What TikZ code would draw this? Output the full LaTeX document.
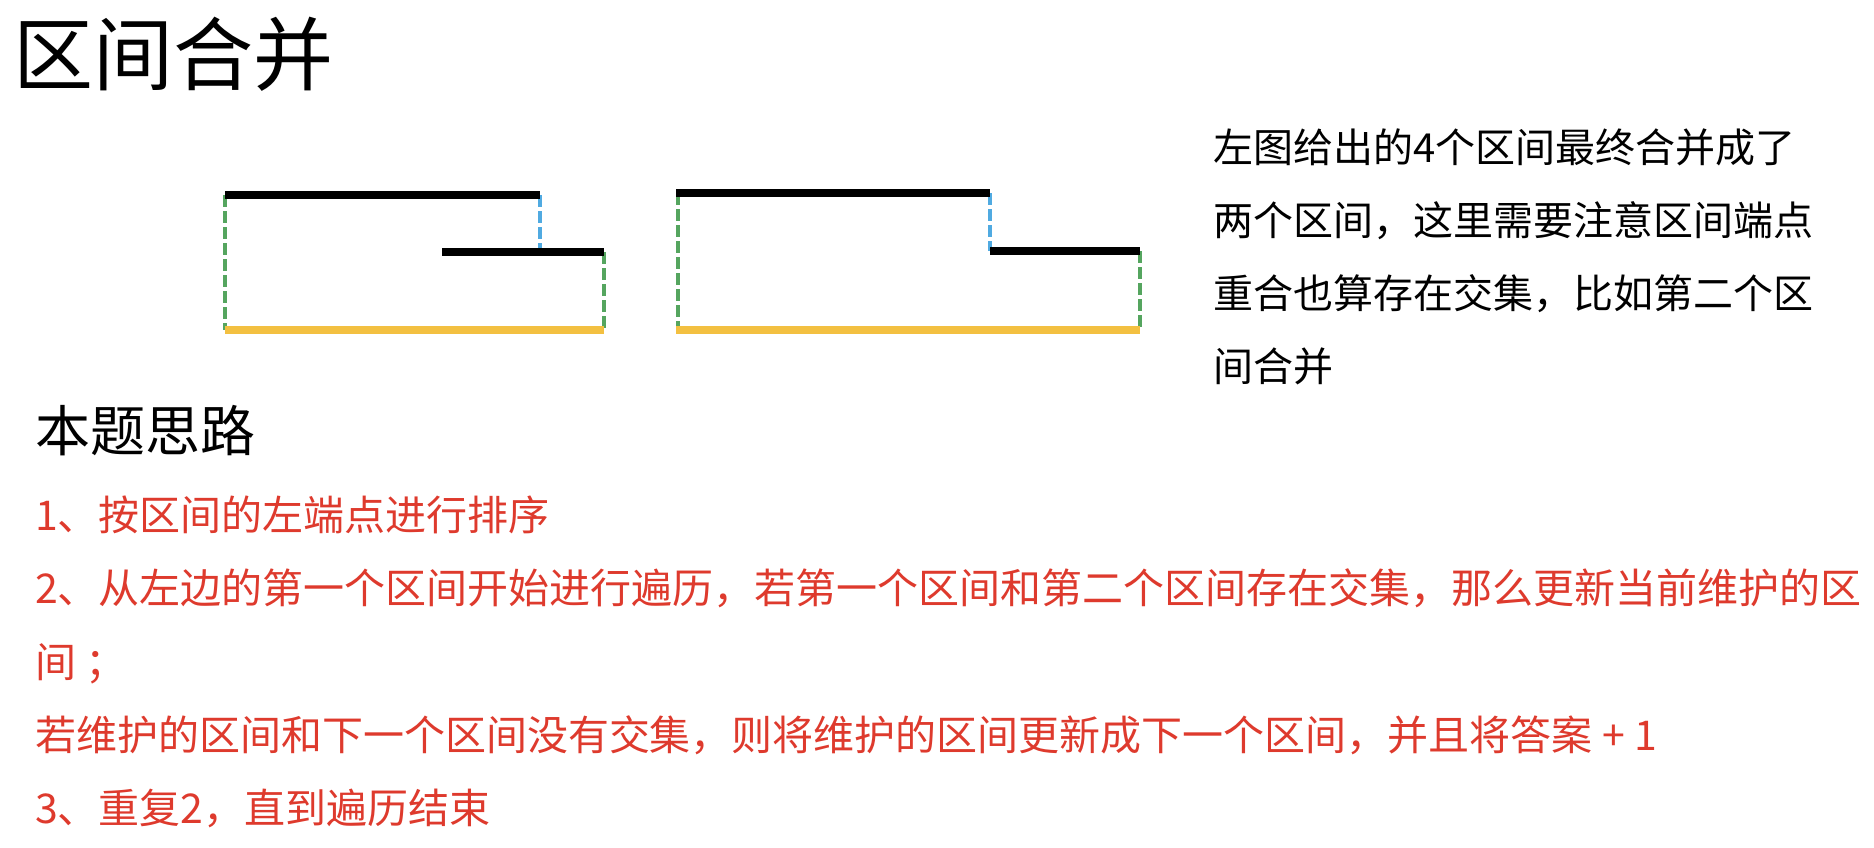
\documentclass[tikz,border=0pt]{standalone}
\usepackage{fontspec}
\setmainfont{Noto Sans CJK SC}
\definecolor{redtxt}{RGB}{222,58,45}
\definecolor{barYellow}{RGB}{243,192,65}
\definecolor{dashGreen}{RGB}{85,165,95}
\definecolor{dashBlue}{RGB}{80,170,225}
\tikzset{
  txt/.style={inner sep=0pt, outer sep=0pt, anchor=base west},
  bigtitle/.style={txt, font=\fontsize{80}{80}\selectfont},
  subtitle/.style={txt, font=\fontsize{55}{55}\selectfont},
  note/.style={txt, font=\fontsize{40}{40}\selectfont},
  redline/.style={txt, text=redtxt, font=\fontsize{41}{41}\selectfont},
  bar/.style={line width=8pt, draw=black},
  mergedbar/.style={line width=8pt, draw=barYellow},
  gside/.style={line width=4pt, draw=dashGreen, dash pattern=on 12pt off 4pt},
  bside/.style={line width=4pt, draw=dashBlue, dash pattern=on 12pt off 4pt},
}
\begin{document}
\begin{tikzpicture}[x=1pt,y=-1pt]
\useasboundingbox (0,0) rectangle (1874,848);
% titles
\node[bigtitle] (title) at (13,85) {区间合并};
\node[subtitle] (sub) at (35,451) {本题思路};
% right note
\node[note] (n1) at (1213,162) {左图给出的4个区间最终合并成了};
\node[note] (n2) at (1213,235) {两个区间，这里需要注意区间端点};
\node[note] (n3) at (1213,308) {重合也算存在交集，比如第二个区};
\node[note] (n4) at (1213,381) {间合并};
% red steps
\node[redline] (r1) at (35,530) {1、按区间的左端点进行排序};
\node[redline] (r2) at (35,603) {2、从左边的第一个区间开始进行遍历，若第一个区间和第二个区间存在交集，那么更新当前维护的区};
\node[redline] (r3) at (35,677) {间\hspace{10pt}；};
\node[redline] (r4) at (35,750) {若维护的区间和下一个区间没有交集，则将维护的区间更新成下一个区间，并且将答案 + 1};
\node[redline] (r5) at (35,823) {3、重复2，直到遍历结束};
% first example
\coordinate (a1) at (225,195);
\coordinate (a2) at (540,195);
\coordinate (b1) at (442,252);
\coordinate (b2) at (604,252);
\coordinate (m1) at (225,330);
\coordinate (m2) at (604,330);
\coordinate (a2b) at (540,252);
\draw[gside] (a1) -- (m1);
\draw[gside] (b2) -- (m2);
\draw[bside] (a2) -- (a2b);
\draw[bar] (a1) -- (a2);
\draw[bar] (b1) -- (b2);
\draw[mergedbar] (m1) -- (m2);
% second example
\coordinate (c1) at (676,193);
\coordinate (c2) at (990,193);
\coordinate (d1) at (990,251);
\coordinate (d2) at (1140,251);
\coordinate (k1) at (676,330);
\coordinate (k2) at (1140,330);
\coordinate (c1g) at (678,193);
\coordinate (k1g) at (678,330);
\draw[gside] (c1g) -- (k1g);
\draw[gside] (d2) -- (k2);
\draw[bside] (c2) -- (d1);
\draw[bar] (c1) -- (c2);
\draw[bar] (d1) -- (d2);
\draw[mergedbar] (k1) -- (k2);
\end{tikzpicture}
\end{document}
